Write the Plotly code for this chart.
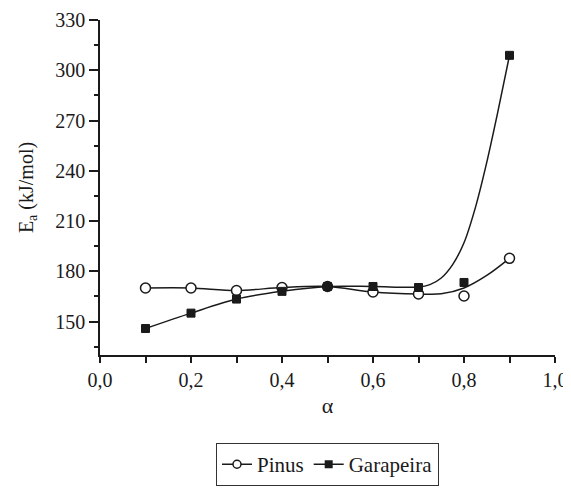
import plotly.graph_objects as go

alpha = [0.1, 0.2, 0.3, 0.4, 0.5, 0.6, 0.7, 0.8, 0.9]
pinus = [170.0, 170.0, 168.5, 170.3, 170.9, 167.6, 166.4, 165.2, 187.7]
garapeira = [145.8, 155.0, 163.4, 168.0, 170.9, 170.9, 170.3, 173.3, 308.9]

# fitted curves
pinus_fit_x = [0.1, 0.2, 0.3, 0.4, 0.5, 0.6, 0.7, 0.75, 0.8, 0.85, 0.9]
pinus_fit_y = [170.0, 170.0, 168.5, 170.3, 170.9, 167.6, 166.4, 166.5, 170.0, 177.5, 187.7]
gara_fit_x = [0.1, 0.2, 0.3, 0.4, 0.5, 0.6, 0.7, 0.725, 0.75, 0.775, 0.8, 0.825, 0.85, 0.875, 0.9]
gara_fit_y = [145.8, 155.0, 163.4, 168.0, 170.9, 170.9, 170.6, 172.0, 176.0, 184.0, 197.0, 218.0, 245.0, 276.0, 308.9]

font = "Liberation Serif"
ink = "#1a1a1a"
fig = go.Figure()
fig.add_trace(go.Scatter(x=pinus_fit_x, y=pinus_fit_y, mode="lines",
                         line=dict(color=ink, width=1.5, shape="spline", smoothing=0.9),
                         showlegend=False, hoverinfo="skip"))
fig.add_trace(go.Scatter(x=gara_fit_x, y=gara_fit_y, mode="lines",
                         line=dict(color=ink, width=1.5, shape="spline", smoothing=0.9),
                         showlegend=False, hoverinfo="skip"))
fig.add_trace(go.Scatter(x=alpha, y=pinus, mode="markers", name="Pinus",
                         marker=dict(symbol="circle", size=10, color="white",
                                     line=dict(color=ink, width=1.5)),
                         showlegend=False))
fig.add_trace(go.Scatter(x=alpha, y=garapeira, mode="markers", name="Garapeira",
                         marker=dict(symbol="square", size=8, color=ink,
                                     line=dict(color=ink, width=1)),
                         showlegend=False))
# legend entries
fig.add_trace(go.Scatter(x=[None], y=[None], mode="lines+markers", name="Pinus",
                         line=dict(color=ink, width=1.5),
                         marker=dict(symbol="circle", size=8, color="white",
                                     line=dict(color=ink, width=1.5))))
fig.add_trace(go.Scatter(x=[None], y=[None], mode="lines+markers", name="Garapeira",
                         line=dict(color=ink, width=1.5),
                         marker=dict(symbol="square", size=8, color=ink)))

fig.update_layout(
    width=563, height=481,
    margin=dict(l=92, r=16, t=12, b=134, autoexpand=False),
    plot_bgcolor="white", paper_bgcolor="white",
    separators=", ",
    font=dict(family=font, size=20, color=ink),
    showlegend=True,
    legend=dict(orientation="h", x=0.5, xanchor="center", y=-0.263, yanchor="top",
                bordercolor="#333", borderwidth=1, bgcolor="white",
                font=dict(family=font, size=21, color=ink), itemwidth=30,
                tracegroupgap=0),
)
fig.update_xaxes(range=[0, 1.0], dtick=0.2, tick0=0, tickformat=".1f", automargin=False,
                 tickfont=dict(family=font, size=20, color=ink),
                 showgrid=False, zeroline=False, showline=True, linecolor=ink, linewidth=1.5,
                 ticks="outside", ticklen=6, tickwidth=1.5, tickcolor=ink,
                 minor=dict(dtick=0.1, tick0=0, ticks="outside", ticklen=6, tickwidth=1.5, tickcolor=ink, showgrid=False),
                 title=dict(text="α", font=dict(family=font, size=22, color=ink), standoff=8))
fig.update_yaxes(range=[130, 330], tickvals=[150, 180, 210, 240, 270, 300, 330], automargin=False,
                 tickfont=dict(family=font, size=20, color=ink),
                 showgrid=False, zeroline=False, showline=True, linecolor=ink, linewidth=1.5,
                 ticks="outside", ticklen=9, tickwidth=1.5, tickcolor=ink,
                 minor=dict(tickvals=[135, 165, 195, 225, 255, 285, 315], ticks="outside", ticklen=4, tickwidth=1.5,
                            tickcolor=ink, showgrid=False),
                 title=dict(text="E<sub>a</sub> (kJ/mol)", font=dict(family=font, size=20, color=ink), standoff=16))

fig.write_html("out.html")
